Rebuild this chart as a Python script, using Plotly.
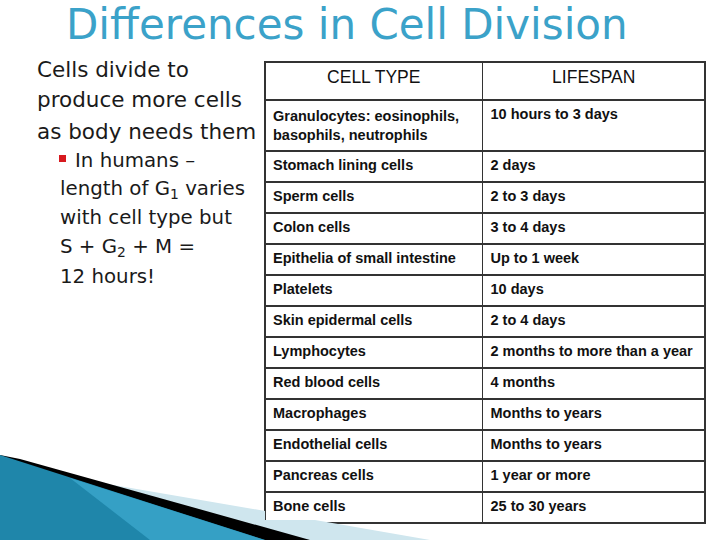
import plotly.graph_objects as go

# slide size in px
W, H = 720, 540

title = "Differences in Cell Division"

main_lines = ["Cells divide to", "produce more cells", "as body needs them"]
sub_lines = ["In humans –", "length of G<sub>1</sub> varies", "with cell type but",
             "S + G<sub>2</sub> + M =", "12 hours!"]

header = ["CELL TYPE", "LIFESPAN"]
cell_types = ["Granulocytes: eosinophils,<br>basophils, neutrophils",
              "Stomach lining cells", "Sperm cells", "Colon cells",
              "Epithelia of small intestine", "Platelets", "Skin epidermal cells",
              "Lymphocytes", "Red blood cells", "Macrophages", "Endothelial cells",
              "Pancreas cells", "Bone cells"]
lifespans = ["10 hours to 3 days", "2 days", "2 to 3 days", "3 to 4 days",
             "Up to 1 week", "10 days", "2 to 4 days", "2 months to more than a year",
             "4 months", "Months to years", "Months to years", "1 year or more",
             "25 to 30 years"]


def px(x):
    return x / W


def py(y):
    return 1 - y / H


def path(pts):
    # polygon path in paper coords from pixel points
    s = "M " + " L ".join("%.4f,%.4f" % (px(x), py(y)) for x, y in pts)
    return s + " Z"


line = dict(color="#333333", width=1.5)

fig = go.Figure(go.Table(
    columnwidth=[218, 223],
    header=dict(values=header, align="center", height=38,
                font=dict(family="Liberation Sans, Arial", size=17.5, color="#111111"),
                fill_color="white", line=line),
    cells=dict(values=[cell_types, lifespans], align="left", height=31,
               font=dict(family="Liberation Sans, Arial", size=14.5, color="#111111", weight="bold"),
               fill_color="white", line=line),
    domain=dict(x=[px(265), px(706)], y=[0, py(62)]),
))

# bottom-left swoosh decoration
shapes = [
    dict(type="path", xref="paper", yref="paper", line_width=0, fillcolor="#cfe6ee",
         path=path([(90, 481), (265, 511), (265, 520), (315, 520), (430, 540), (0, 540)])),
    dict(type="path", xref="paper", yref="paper", line_width=0, fillcolor="#000000",
         path=path([(20, 459), (310, 540), (0, 540), (0, 455)])),
    dict(type="path", xref="paper", yref="paper", line_width=0, fillcolor="#1f86aa",
         path=path([(0, 455), (265, 540), (0, 540)])),
    # lighter streak in the middle of the swoosh
    dict(type="path", xref="paper", yref="paper", line_width=0, fillcolor="#3ba6cc",
         opacity=0.8, path=path([(70, 478), (265, 540), (150, 540)])),
    # red sub-bullet
    dict(type="rect", xref="paper", yref="paper", line_width=0, fillcolor="#d7191f",
         x0=px(59), x1=px(66), y0=py(162), y1=py(155)),
]

annotations = [dict(text=title, x=px(347), y=py(25), xref="paper", yref="paper",
                    showarrow=False, xanchor="center", yanchor="middle",
                    font=dict(family="DejaVu Sans", size=42, color="#3ba2c9"))]

for i, t in enumerate(main_lines):
    annotations.append(dict(text=t, x=px(35), y=py(69 + 31 * i), xref="paper", yref="paper",
                            showarrow=False, xanchor="left", yanchor="middle",
                            font=dict(family="DejaVu Sans", size=21.5, color="#1a1a1a")))

for i, t in enumerate(sub_lines):
    x0 = 73 if i == 0 else 58
    annotations.append(dict(text=t, x=px(x0), y=py(160 + 29 * i), xref="paper", yref="paper",
                            showarrow=False, xanchor="left", yanchor="middle",
                            font=dict(family="DejaVu Sans", size=19.8, color="#1a1a1a")))

fig.update_layout(width=W, height=H, margin=dict(l=0, r=0, t=0, b=0),
                  paper_bgcolor="white", plot_bgcolor="white",
                  shapes=shapes, annotations=annotations, showlegend=False)

# drop the default page margin so the slide sits at the window corner
fig.write_html("out.html", config={"displayModeBar": False},
               post_script="document.body.style.margin='0px';")
